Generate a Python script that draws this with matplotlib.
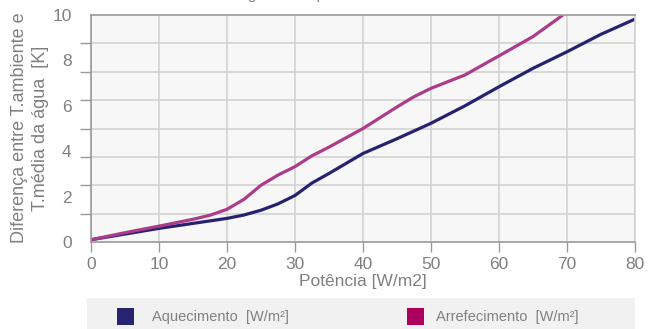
import matplotlib
matplotlib.use("Agg")
import matplotlib.pyplot as plt
import numpy as np
from matplotlib.patches import Rectangle

plt.rcParams['font.family'] = ['Liberation Sans', 'DejaVu Sans']

# dados
pot_aq = [0, 5, 10, 15, 20, 22.5, 25, 27.5, 30, 32.5, 35, 40, 45, 50, 55, 60, 65, 70, 75, 80]
dt_aq = [0.1, 0.35, 0.6, 0.82, 1.04, 1.19, 1.4, 1.68, 2.05, 2.6, 3.02, 3.9, 4.55, 5.23, 6.0, 6.84, 7.65, 8.38, 9.15, 9.82]
pot_ar = [0, 5, 10, 15, 17.5, 20, 22.5, 25, 27.5, 30, 32.5, 35, 40, 45, 47.5, 50, 55, 60, 65, 69.4]
dt_ar = [0.1, 0.41, 0.7, 1.0, 1.18, 1.44, 1.88, 2.5, 2.95, 3.32, 3.8, 4.18, 5.0, 5.95, 6.4, 6.77, 7.36, 8.2, 9.05, 10.0]

xticks = [0, 10, 20, 30, 40, 50, 60, 70, 80]
yticks = [0, 2, 4, 6, 8, 10]
grid_y = np.arange(0, 10.01, 1.25)

c_aq = '#27226f'
c_ar = '#ac3c8a'
cinza = '#808080'

W, H = 662, 329
fig = plt.figure(figsize=(W / 100, H / 100), dpi=100)
ax = fig.add_axes([91 / W, (H - 242) / H, (635 - 91) / W, (242 - 15) / H])
ax.set_facecolor('#f7f7f7')

ax.plot(pot_aq, dt_aq, color=c_aq, lw=2.3, solid_capstyle='butt', solid_joinstyle='round')
ax.plot(pot_ar, dt_ar, color=c_ar, lw=2.3, solid_capstyle='butt', solid_joinstyle='round')

ax.set_xlim(0, 80)
ax.set_ylim(0, 10)
ax.set_xticks(xticks)
ax.set_yticks(yticks)
ax.set_yticks(grid_y, minor=True)
ax.tick_params(axis='y', which='major', length=0, pad=14, labelsize=12.5, labelcolor=cinza)
ax.tick_params(axis='y', which='minor', length=8, color='#999999', width=1)
ax.tick_params(axis='x', length=7, color='#999999', width=1, labelsize=12.5, labelcolor=cinza, pad=4)
ax.grid(False)
ax.grid(True, which='minor', axis='y', color='#d2d2d2', lw=1.2)
ax.grid(True, which='major', axis='x', color='#d2d2d2', lw=1.2)
ax.set_axisbelow(True)
for s in ['left', 'bottom', 'top']:
    ax.spines[s].set_color('#999999')
    ax.spines[s].set_linewidth(1.2)
ax.spines['right'].set_color('#d2d2d2')
ax.spines['right'].set_linewidth(1.2)

ax.set_xlabel('Potência [W/m2]', fontsize=12.5, color=cinza, labelpad=1)
fig.text(30 / W, (H - 128) / H, 'Diferença entre T.ambiente e\nT.média da água  [K]', rotation=90,
         ha='center', va='center', fontsize=13, color=cinza, linespacing=1.35)

# título cortado no topo
fig.text(300 / W, 1.003, 'Diagrama de potência', ha='center', va='baseline', fontsize=11, color=cinza)

# legenda
fig.patches.append(Rectangle((87 / W, 0), (635 - 87) / W, 31 / H, transform=fig.transFigure,
                             facecolor='#f1f1f1', edgecolor='none', zorder=0))
fig.patches.append(Rectangle((117 / W, 4 / H), 17 / W, 17 / H, transform=fig.transFigure,
                             facecolor='#26246e', edgecolor='none'))
fig.patches.append(Rectangle((407 / W, 4 / H), 17 / W, 17 / H, transform=fig.transFigure,
                             facecolor='#b0005f', edgecolor='none'))
fig.text(152 / W, 12.5 / H, 'Aquecimento  [W/m²]', va='center', fontsize=10.5, color=cinza)
fig.text(436 / W, 12.5 / H, 'Arrefecimento  [W/m²]', va='center', fontsize=10.5, color=cinza)

fig.savefig('out.png', dpi=100)
